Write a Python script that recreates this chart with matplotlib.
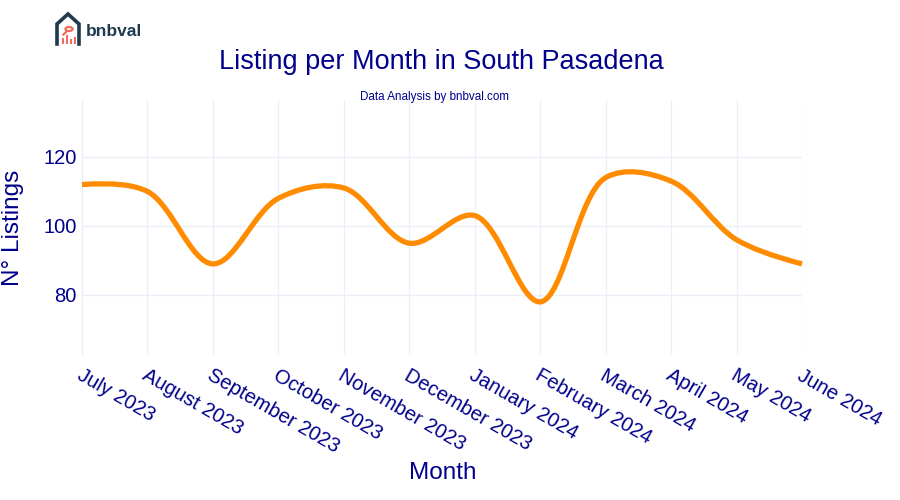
import numpy as np
import matplotlib
matplotlib.use("Agg")
import matplotlib.pyplot as plt
from matplotlib.path import Path
from matplotlib.patches import PathPatch, Rectangle, Circle
from matplotlib.lines import Line2D

months = ["July 2023", "August 2023", "September 2023", "October 2023", "November 2023",
          "December 2023", "January 2024", "February 2024", "March 2024", "April 2024",
          "May 2024", "June 2024"]
listings = [112, 110, 89, 108, 111, 95, 103, 78, 114, 113, 96, 89]
y_ticks = [80, 100, 120]

title = "Listing per Month in South Pasadena"
subtitle = "Data Analysis by bnbval.com"
navy = "#00008B"
orange = "#FF8C00"
grid_c = "#EBF0F8"

plt.rcParams['font.family'] = ['Liberation Sans', 'DejaVu Sans']

fig = plt.figure(figsize=(9, 5), dpi=100)
ax = fig.add_axes([82/900, 1-355/500, 720/900, 255/500])
x = np.arange(len(months))
ax.set_xlim(0, len(months) - 1)
ax.set_ylim(62.6, 136.5)

for s in ax.spines.values():
    s.set_visible(False)
ax.set_xticks(x)
ax.set_xticklabels([])
ax.set_yticks(y_ticks)
ax.tick_params(axis='both', length=0, labelsize=14.5, labelcolor=navy)
ax.tick_params(axis='y', pad=4)
ax.grid(True, color=grid_c, lw=1)
ax.set_axisbelow(True)

# x tick labels rotated like the reference
for xi, lab in zip(x, months):
    ax.annotate(lab, xy=(xi, 0), xycoords=('data', 'axes fraction'),
                xytext=(1, -11), textcoords='offset pixels',
                rotation=-30, rotation_mode='anchor', ha='left', va='top',
                fontsize=14.5, color=navy)

# plotly-style spline in pixel space
fig.canvas.draw()
T = ax.transData
pts = T.transform(np.column_stack([x, listings]))

def tangent(p0, p1, p2, sm=1.0):
    d1 = p0 - p1
    d2 = p2 - p1
    d1a = np.hypot(*d1) ** 0.5
    d2a = np.hypot(*d2) ** 0.5
    num = (d2a * d2a * d1 - d1a * d1a * d2) * sm
    den1 = 3 * d2a * (d1a + d2a)
    den2 = 3 * d1a * (d1a + d2a)
    return p1 + num / den1, p1 - num / den2

tans = [tangent(pts[i-1], pts[i], pts[i+1]) for i in range(1, len(pts) - 1)]
verts = [pts[0], tans[0][0], pts[1]]
codes = [Path.MOVETO, Path.CURVE3, Path.CURVE3]
for i in range(2, len(pts) - 1):
    verts += [tans[i-2][1], tans[i-1][0], pts[i]]
    codes += [Path.CURVE4] * 3
verts += [tans[-1][1], pts[-1]]
codes += [Path.CURVE3, Path.CURVE3]
verts_data = T.inverted().transform(np.array(verts))
patch = PathPatch(Path(verts_data, codes), facecolor='none', edgecolor=orange,
                  lw=3.8, capstyle='butt', joinstyle='round', clip_on=False)
ax.add_patch(patch)

fig.text(13/900, 1-228/500, "N° Listings", fontsize=17.5, color=navy, rotation=90,
         ha='center', va='center')
fig.text(443/900, 1-473/500, "Month", fontsize=17.5, color=navy, ha='center', va='center')
fig.text(441/900, 1-62/500, title, fontsize=19.5, color=navy, ha='center', va='center')
fig.text(434/900, 1-97/500, subtitle, fontsize=8.4, color=navy, ha='center', va='center')

# logo
W, H = 900, 500
def fx(px): return px / W
def fy(py): return 1 - py / H
dark = "#1F3B4D"
red = "#F26B5B"
house = Line2D([fx(57), fx(57), fx(68), fx(79), fx(79)],
               [fy(44), fy(24), fy(14), fy(24), fy(44)],
               transform=fig.transFigure, color=dark, lw=2.6, solid_joinstyle='miter')
fig.add_artist(house)
fig.add_artist(Circle((fx(69), fy(29)), 3.6/W, transform=fig.transFigure,
                      fill=False, ec=red, lw=1.6))
fig.add_artist(Line2D([fx(66.5), fx(63.5)], [fy(31.5), fy(34.5)], transform=fig.transFigure,
                      color=red, lw=1.6))
for bx, bh in [(62, 6), (66, 9), (70, 5), (74, 7)]:
    fig.add_artist(Rectangle((fx(bx), fy(44)), 2.2/W, bh/H, transform=fig.transFigure,
                             color=red, lw=0))
fig.text(fx(86), fy(31), "bnbval", fontsize=12.5, fontweight='bold', color=dark,
         ha='left', va='center')

fig.savefig("out.png", dpi=100)
